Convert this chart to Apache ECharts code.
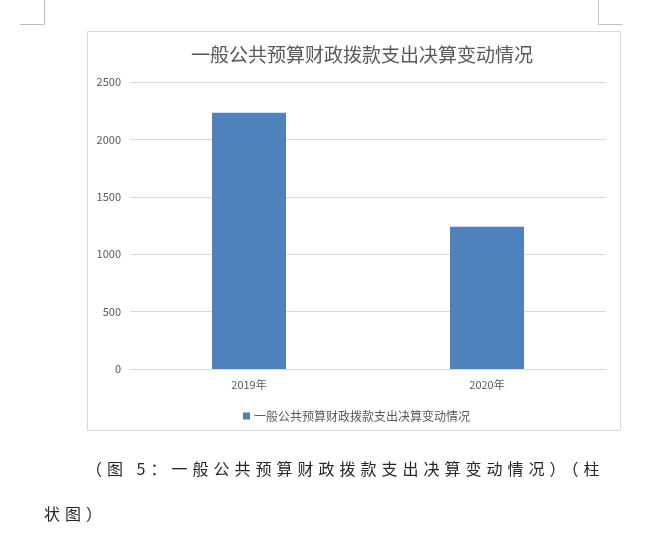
<!DOCTYPE html>
<html>
<head>
<meta charset="utf-8">
<script src="https://cdn.jsdelivr.net/npm/echarts@6/dist/echarts.min.js"></script>
<style>
  body{margin:0;background:#fff;}
  .page{position:relative;width:663px;height:542px;overflow:hidden;}
  .main{position:absolute;left:0;top:0;width:663px;height:542px;}
  .cap{position:absolute;font-family:"Noto Sans CJK SC",sans-serif;font-size:16px;color:#262626;letter-spacing:5px;white-space:nowrap;line-height:20px;}
</style>
</head>
<body>
<div class="page">
  <div class="main"></div>
  <div class="cap" style="left:86px;top:458px;">（图 5：一般公共预算财政拨款支出决算变动情况）（柱</div>
  <div class="cap" style="left:44px;top:503px;">状图）</div>
</div>
<script>
var chartTitle = '一般公共预算财政拨款支出决算变动情况';
var years = ['2019年', '2020年'];
var amounts = [2232, 1239];
var yTicks = [0, 500, 1000, 1500, 2000, 2500];

var myChart = echarts.init(document.querySelector('.main'));
var option = {
  animation: false,
  textStyle: { fontFamily: 'Noto Sans CJK SC, sans-serif' },
  title: {
    text: chartTitle,
    left: 186,
    top: 40,
    textStyle: { fontSize: 19, fontWeight: 'normal', color: '#595959' }
  },
  legend: {
    data: [chartTitle],
    left: 238,
    top: 405,
    itemWidth: 7,
    itemHeight: 7,
    icon: 'rect',
    textStyle: { fontSize: 12, color: '#595959', padding: [0, 0, 0, -1] }
  },
  grid: { left: 130, right: 57, top: 82, bottom: 173, containLabel: false },
  xAxis: {
    type: 'category',
    data: years,
    axisLine: { lineStyle: { color: '#d9d9d9' } },
    axisTick: { show: false },
    axisLabel: { fontSize: 11, color: '#595959', margin: 10 }
  },
  yAxis: {
    type: 'value',
    min: yTicks[0],
    max: yTicks[yTicks.length - 1],
    interval: yTicks[1] - yTicks[0],
    axisLine: { show: false },
    axisTick: { show: false },
    axisLabel: { fontSize: 11, color: '#595959', margin: 9, formatter: function (v) { return String(v); } },
    splitLine: { lineStyle: { color: '#d9d9d9' } }
  },
  series: [{
    name: chartTitle,
    type: 'bar',
    barWidth: 74,
    itemStyle: { color: '#4f81bd' },
    data: amounts
  }],
  graphic: [
    // page corner marks
    { type: 'polyline', shape: { points: [[44.5, 0], [44.5, 24.5], [20, 24.5]] }, style: { fill: null, stroke: '#bfbfbf', lineWidth: 1 } },
    { type: 'polyline', shape: { points: [[598.5, 0], [598.5, 24.5], [622, 24.5]] }, style: { fill: null, stroke: '#bfbfbf', lineWidth: 1 } },
    // chart frame
    { type: 'rect', shape: { x: 87.5, y: 31.5, width: 533, height: 399 }, style: { fill: null, stroke: '#d9d9d9', lineWidth: 1 }, z: -1 }
  ]
};
myChart.setOption(option);
</script>
</body>
</html>
